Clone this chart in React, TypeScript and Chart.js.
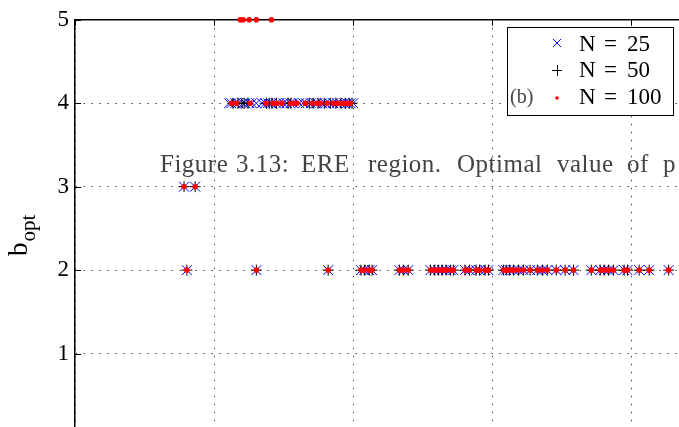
import React, { useEffect, useRef } from 'react';
import { Chart, registerables } from 'chart.js';

Chart.register(...registerables);

// Axis ticks
const yTicks = [0, 1, 2, 3, 4, 5];
const xTicks = [0, 0.25, 0.5, 0.75, 1.0];

const seriesNames = ['N = 25', 'N = 50', 'N = 100'];

// Positions where every N gives b_opt = 2
const sharedB2 = [
  0.201, 0.326, 0.455, 0.514, 0.520, 0.529, 0.534, 0.583, 0.590, 0.599,
  0.639, 0.646, 0.653, 0.660, 0.667, 0.675, 0.680, 0.701, 0.709, 0.721,
  0.727, 0.737, 0.743, 0.770, 0.775, 0.781, 0.788, 0.797, 0.806, 0.818,
  0.831, 0.840, 0.849, 0.865, 0.881, 0.896, 0.928, 0.944, 0.951, 0.959,
  0.968, 0.987, 0.993, 1.014, 1.032, 1.067,
];

// Positions where every N gives b_opt = 3
const sharedB3 = [0.196, 0.216];

// b_opt = 4 positions per N
const n25B4 = [
  0.277, 0.281, 0.288, 0.293, 0.302, 0.306, 0.313, 0.318, 0.326, 0.336,
  0.342, 0.347, 0.353, 0.362, 0.367, 0.374, 0.381, 0.387, 0.392, 0.403,
  0.410, 0.415, 0.424, 0.432, 0.435, 0.444, 0.450, 0.457, 0.464, 0.471,
  0.477, 0.484, 0.489, 0.495, 0.500,
];
const n50B4 = [
  0.284, 0.293, 0.300, 0.304, 0.311, 0.344, 0.349, 0.354, 0.362, 0.383,
  0.388, 0.421, 0.428, 0.437, 0.448, 0.459, 0.469, 0.478, 0.486, 0.493,
  0.498,
];
const n100B4 = [
  0.281, 0.290, 0.315, 0.344, 0.356, 0.363, 0.372, 0.388, 0.394, 0.399,
  0.414, 0.426, 0.435, 0.441, 0.453, 0.464, 0.473, 0.482, 0.489, 0.495,
];

// b_opt = 5 positions (N = 100 only)
const n100B5 = [0.297, 0.302, 0.313, 0.326, 0.353];

const captionWords = ['Figure', '3.13:', 'ERE', 'region.', 'Optimal', 'value', 'of', 'p'];

const pts = (xs: number[], b: number) => xs.map((x) => ({ x, y: b }));

const W = 700;
const H = 470;
const SERIF = '"Liberation Serif", "Times New Roman", serif';

const framePlugin = {
  id: 'frame',
  beforeDatasetsDraw(chart: any) {
    const { ctx, chartArea, scales } = chart;
    const { left, right, top } = chartArea;
    ctx.save();
    ctx.strokeStyle = '#000';
    ctx.lineWidth = 1.5;
    // top box line
    ctx.beginPath();
    ctx.moveTo(left, top);
    ctx.lineTo(right, top);
    ctx.stroke();
    // inward tick marks
    ctx.lineWidth = 1;
    yTicks.forEach((v) => {
      const y = Math.round(scales.y.getPixelForValue(v)) + 0.5;
      ctx.beginPath();
      ctx.moveTo(left, y);
      ctx.lineTo(left + 6, y);
      ctx.stroke();
    });
    xTicks.forEach((v) => {
      const x = Math.round(scales.x.getPixelForValue(v)) + 0.5;
      ctx.beginPath();
      ctx.moveTo(x, top);
      ctx.lineTo(x, top + 6);
      ctx.stroke();
    });
    ctx.restore();
  },
  afterDraw(chart: any) {
    const { ctx } = chart;
    ctx.save();

    // y-axis title: b with subscript "opt"
    ctx.save();
    ctx.translate(27, 256);
    ctx.rotate(-Math.PI / 2);
    ctx.fillStyle = '#000';
    ctx.textBaseline = 'alphabetic';
    ctx.font = `27px ${SERIF}`;
    ctx.fillText('b', 0, 0);
    const bw = ctx.measureText('b').width;
    ctx.font = `21px ${SERIF}`;
    ctx.fillText('opt', bw + 1, 8);
    ctx.restore();

    // legend box
    const bx = 507.5, by = 27.5, bwid = 166, bh = 88;
    ctx.fillStyle = '#fff';
    ctx.fillRect(bx, by, bwid, bh);
    ctx.strokeStyle = '#000';
    ctx.lineWidth = 1;
    ctx.strokeRect(bx, by, bwid, bh);

    // legend markers
    const mx = 557;
    ctx.lineWidth = 1;
    ctx.strokeStyle = '#0000ff';
    ctx.beginPath();
    ctx.moveTo(mx - 4, 43 - 4); ctx.lineTo(mx + 4, 43 + 4);
    ctx.moveTo(mx - 4, 43 + 4); ctx.lineTo(mx + 4, 43 - 4);
    ctx.stroke();
    ctx.strokeStyle = '#000';
    ctx.beginPath();
    ctx.moveTo(mx - 5, 70.5); ctx.lineTo(mx + 5, 70.5);
    ctx.moveTo(mx + 0.5, 65); ctx.lineTo(mx + 0.5, 76);
    ctx.stroke();
    ctx.fillStyle = '#ff0000';
    ctx.beginPath();
    ctx.arc(mx, 98, 1.8, 0, Math.PI * 2);
    ctx.fill();

    // legend texts
    ctx.fillStyle = '#000';
    ctx.font = `23px ${SERIF}`;
    ctx.textBaseline = 'alphabetic';
    const rows = [51, 77, 104];
    seriesNames.forEach((name, i) => {
      const [n, eq, num] = name.split(' ');
      ctx.fillText(n, 579, rows[i]);
      ctx.fillText(eq, 604, rows[i]);
      ctx.fillText(num, 627, rows[i]);
    });

    // overlapping caption text
    ctx.fillStyle = '#444';
    ctx.font = `20px ${SERIF}`;
    ctx.fillText('(b)', 510, 103);

    ctx.font = `25px ${SERIF}`;
    (ctx as any).letterSpacing = '0.5px';
    const wordX = [160, 236, 301, 368, 457, 557, 627, 663];
    captionWords.forEach((w, i) => ctx.fillText(w, wordX[i], 172));
    (ctx as any).letterSpacing = '0px';

    ctx.restore();
  },
};

export default function App() {
  const canvasRef = useRef<HTMLCanvasElement | null>(null);

  useEffect(() => {
    const canvas = canvasRef.current;
    if (!canvas) return;
    const chart = new Chart(canvas, {
      type: 'scatter',
      data: {
        datasets: [
          {
            label: seriesNames[0],
            data: [...pts(sharedB2, 2), ...pts(sharedB3, 3), ...pts(n25B4, 4)],
            pointStyle: 'crossRot',
            pointRadius: 7,
            borderColor: '#0000ff',
            backgroundColor: '#0000ff',
            borderWidth: 1,
            order: 3,
            clip: false,
          },
          {
            label: seriesNames[1],
            data: [...pts(sharedB2, 2), ...pts(sharedB3, 3), ...pts(n50B4, 4)],
            pointStyle: 'cross',
            pointRadius: 5.5,
            borderColor: '#000',
            backgroundColor: '#000',
            borderWidth: 1,
            order: 2,
            clip: false,
          },
          {
            label: seriesNames[2],
            data: [
              ...pts(sharedB2, 2),
              ...pts(sharedB3, 3),
              ...pts(n100B4, 4),
              ...pts(n100B5, 5),
            ],
            pointStyle: 'circle',
            pointRadius: 2.8,
            borderColor: '#ff0000',
            backgroundColor: '#ff0000',
            borderWidth: 0,
            order: 1,
            clip: false,
          },
        ],
      } as any,
      options: {
        responsive: false,
        animation: false,
        events: [],
        layout: { padding: { top: 18, right: 13, bottom: 33, left: 0 } },
        plugins: { legend: { display: false }, tooltip: { enabled: false } },
        scales: {
          x: {
            type: 'linear',
            min: 0,
            max: 1.1,
            afterBuildTicks: (s: any) => {
              s.ticks = xTicks.map((v) => ({ value: v }));
            },
            afterFit: (s: any) => {
              s.height = 0;
            },
            ticks: { display: false },
            grid: { color: 'rgba(30,30,30,0.8)', lineWidth: 1, drawTicks: false },
            border: { display: false, dash: [1.5, 6.5] },
          },
          y: {
            type: 'linear',
            min: 0,
            max: 5,
            afterBuildTicks: (s: any) => {
              s.ticks = yTicks.map((v) => ({ value: v }));
            },
            afterFit: (s: any) => {
              s.width = 75;
            },
            ticks: {
              color: '#000',
              padding: 6,
              font: { family: SERIF, size: 23 },
            },
            grid: { color: 'rgba(30,30,30,0.8)', lineWidth: 1, drawTicks: false },
            border: { display: true, color: '#000', width: 1.5, dash: [1.5, 6.5] },
          },
        },
      } as any,
      plugins: [framePlugin],
    });
    return () => chart.destroy();
  }, []);

  return (
    <div
      style={{
        position: 'fixed',
        left: 0,
        top: 0,
        width: 679,
        height: 427,
        overflow: 'hidden',
        background: '#fff',
      }}
    >
      <canvas ref={canvasRef} width={W} height={H} style={{ width: W, height: H, display: 'block' }} />
    </div>
  );
}
